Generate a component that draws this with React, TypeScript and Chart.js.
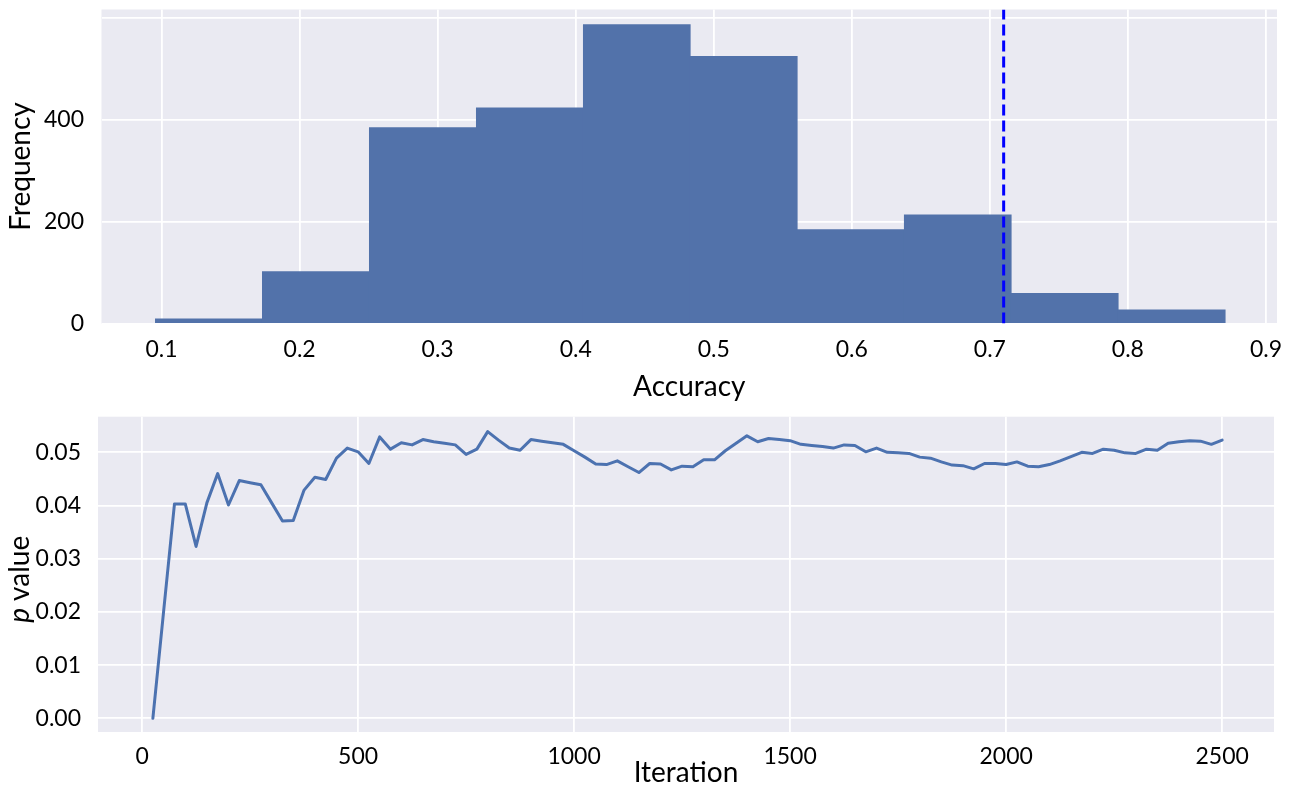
import React, { useEffect, useRef } from 'react';
import { Chart, registerables } from 'chart.js';

Chart.register(...registerables);

// ---------- Top panel: histogram of permutation accuracies ----------
const accuracyBinEdges = [0.0955, 0.173, 0.2505, 0.328, 0.4055, 0.483, 0.5605, 0.638, 0.7155, 0.793, 0.8705];
const accuracyCounts = [9, 102, 384, 423, 586, 524, 184, 213, 59, 27];
const observedAccuracy = 0.71;
const freqTicks = [0, 200, 400, 600];
const freqTickLabels = ['0', '200', '400', ''];
const accuracyTicks = [0.1, 0.2, 0.3, 0.4, 0.5, 0.6, 0.7, 0.8, 0.9];
const accuracyTickLabels = ['0.1', '0.2', '0.3', '0.4', '0.5', '0.6', '0.7', '0.8', '0.9'];

// ---------- Bottom panel: p value vs iteration ----------
const iterations = [
  25, 50, 75, 100, 125, 150, 175, 200, 225, 250,
  275, 300, 325, 350, 375, 400, 425, 450, 475, 500,
  525, 550, 575, 600, 625, 650, 675, 700, 725, 750,
  775, 800, 825, 850, 875, 900, 925, 950, 975, 1000,
  1025, 1050, 1075, 1100, 1125, 1150, 1175, 1200, 1225, 1250,
  1275, 1300, 1325, 1350, 1375, 1400, 1425, 1450, 1475, 1500,
  1525, 1550, 1575, 1600, 1625, 1650, 1675, 1700, 1725, 1750,
  1775, 1800, 1825, 1850, 1875, 1900, 1925, 1950, 1975, 2000,
  2025, 2050, 2075, 2100, 2125, 2150, 2175, 2200, 2225, 2250,
  2275, 2300, 2325, 2350, 2375, 2400, 2425, 2450, 2475, 2500,
];
const pValues = [
  0.0000, 0.0202, 0.0403, 0.0403, 0.0323, 0.0405, 0.0460, 0.0401, 0.0447, 0.0443,
  0.0439, 0.0405, 0.0371, 0.0372, 0.0429, 0.0453, 0.0449, 0.0489, 0.0508, 0.0501,
  0.0479, 0.0529, 0.0506, 0.0518, 0.0514, 0.0524, 0.0520, 0.0517, 0.0514, 0.0496,
  0.0506, 0.0539, 0.0523, 0.0508, 0.0504, 0.0524, 0.0521, 0.0518, 0.0515, 0.0503,
  0.0491, 0.0478, 0.0477, 0.0484, 0.0473, 0.0462, 0.0479, 0.0478, 0.0467, 0.0474,
  0.0473, 0.0486, 0.0486, 0.0503, 0.0517, 0.0531, 0.0520, 0.0526, 0.0524, 0.0522,
  0.0515, 0.0513, 0.0511, 0.0508, 0.0514, 0.0513, 0.0501, 0.0508, 0.0500, 0.0499,
  0.0498, 0.0491, 0.0489, 0.0482, 0.0476, 0.0475, 0.0469, 0.0479, 0.0479, 0.0477,
  0.0482, 0.0474, 0.0473, 0.0477, 0.0484, 0.0492, 0.0500, 0.0498, 0.0506, 0.0504,
  0.0499, 0.0498, 0.0506, 0.0504, 0.0517, 0.0520, 0.0522, 0.0521, 0.0515, 0.0523,
];
const iterationTicks = [0, 500, 1000, 1500, 2000, 2500];
const iterationTickLabels = ['0', '500', '1000', '1500', '2000', '2500'];
const pTicks = [0, 0.01, 0.02, 0.03, 0.04, 0.05];
const pTickLabels = ['0.00', '0.01', '0.02', '0.03', '0.04', '0.05'];

const FONT = 'Lato, "Open Sans", "DejaVu Sans", sans-serif';
const TEXT = '#000000';
const PLOT_BG = '#eaeaf2';
const BAR_COLOR = '#5272aa';
const LINE_COLOR = '#4c72b0';

const plotBg = {
  id: 'plotBg',
  beforeDraw(chart: any) {
    const { ctx, chartArea } = chart;
    if (!chartArea) return;
    ctx.save();
    ctx.fillStyle = PLOT_BG;
    ctx.fillRect(chartArea.left, chartArea.top, chartArea.right - chartArea.left, chartArea.bottom - chartArea.top);
    ctx.restore();
  },
};

const gridOpts = { color: '#ffffff', lineWidth: 1.8, drawTicks: false, offset: false };

const zeroPad = (scale: any) => {
  scale.paddingTop = 0;
  scale.paddingBottom = 0;
  scale.paddingLeft = 0;
  scale.paddingRight = 0;
};

export default function App() {
  const topRef = useRef<HTMLCanvasElement>(null);
  const botRef = useRef<HTMLCanvasElement>(null);

  useEffect(() => {
    const centers = accuracyCounts.map((_, i) => (accuracyBinEdges[i] + accuracyBinEdges[i + 1]) / 2);
    const freqMax = 615.7;

    const top = new Chart(topRef.current as HTMLCanvasElement, {
      type: 'bar',
      data: {
        datasets: [
          {
            type: 'line',
            label: 'observed',
            data: [
              { x: observedAccuracy, y: 0 },
              { x: observedAccuracy, y: freqMax },
            ],
            borderColor: '#0000ff',
            borderWidth: 3,
            borderDash: [11, 5],
            pointRadius: 0,
            fill: false,
            order: 0,
          } as any,
          {
            type: 'bar',
            label: 'Frequency',
            data: centers.map((c, i) => ({ x: c, y: accuracyCounts[i] })),
            backgroundColor: BAR_COLOR,
            borderWidth: 0,
            barPercentage: 1,
            categoryPercentage: 1,
            order: 1,
          } as any,
        ],
      },
      options: {
        animation: false,
        responsive: false,
        devicePixelRatio: 1,
        layout: { padding: { top: 9.5, right: 16, left: 0, bottom: 0 } },
        plugins: { legend: { display: false }, tooltip: { enabled: false } },
        scales: {
          x: {
            type: 'linear',
            offset: false,
            min: 0.0565,
            max: 0.908,
            grid: gridOpts,
            border: { display: false },
            afterBuildTicks: (scale: any) => {
              scale.ticks = accuracyTicks.map((v) => ({ value: v }));
            },
            afterFit: (scale: any) => {
              scale.height = 86.5;
              zeroPad(scale);
            },
            ticks: {
              autoSkip: false,
              maxRotation: 0,
              padding: 12,
              color: TEXT,
              font: { family: FONT, size: 23 },
              callback: (_v: any, i: number) => accuracyTickLabels[i],
            },
            title: {
              display: true,
              text: 'Accuracy',
              color: TEXT,
              font: { family: FONT, size: 28 },
              padding: { top: 0, bottom: 6.2 },
            },
          },
          y: {
            type: 'linear',
            min: 0,
            max: freqMax,
            grid: gridOpts,
            border: { display: false },
            afterBuildTicks: (scale: any) => {
              scale.ticks = freqTicks.map((v) => ({ value: v }));
            },
            afterFit: (scale: any) => {
              scale.width = 101.5;
              zeroPad(scale);
            },
            ticks: {
              autoSkip: false,
              padding: 17.5,
              color: TEXT,
              font: { family: FONT, size: 23 },
              callback: (_v: any, i: number) => freqTickLabels[i],
            },
            title: {
              display: true,
              text: 'Frequency',
              color: TEXT,
              font: { family: FONT, size: 28 },
              padding: { top: 4.2, bottom: 0 },
            },
          },
        },
      } as any,
      plugins: [plotBg],
    });

    const pTitle = {
      id: 'pTitle',
      afterDraw(chart: any) {
        const { ctx, chartArea } = chart;
        const cy = (chartArea.top + chartArea.bottom) / 2 + 5;
        const cx = 20;
        ctx.save();
        ctx.translate(cx, cy);
        ctx.rotate(-Math.PI / 2);
        ctx.fillStyle = TEXT;
        ctx.textBaseline = 'middle';
        ctx.textAlign = 'left';
        const italic = `italic 28px ${FONT}`;
        const normal = `28px ${FONT}`;
        ctx.font = italic;
        const wp = ctx.measureText('p').width;
        ctx.font = normal;
        const wv = ctx.measureText(' value').width;
        const start = -(wp + wv) / 2;
        ctx.font = italic;
        ctx.fillText('p', start, 0);
        ctx.font = normal;
        ctx.fillText(' value', start + wp, 0);
        ctx.restore();
      },
    };

    const bottom = new Chart(botRef.current as HTMLCanvasElement, {
      type: 'line',
      data: {
        datasets: [
          {
            label: 'p value',
            data: iterations.map((it, i) => ({ x: it, y: pValues[i] })),
            borderColor: LINE_COLOR,
            borderWidth: 3,
            pointRadius: 0,
            tension: 0,
            fill: false,
            borderJoinStyle: 'round',
            borderCapStyle: 'round',
          } as any,
        ],
      },
      options: {
        animation: false,
        responsive: false,
        devicePixelRatio: 1,
        layout: { padding: { top: 16.7, right: 19, left: 0, bottom: 0 } },
        plugins: { legend: { display: false }, tooltip: { enabled: false } },
        scales: {
          x: {
            type: 'linear',
            min: -102,
            max: 2620,
            grid: gridOpts,
            border: { display: false },
            afterBuildTicks: (scale: any) => {
              scale.ticks = iterationTicks.map((v) => ({ value: v }));
            },
            afterFit: (scale: any) => {
              scale.height = 53;
              zeroPad(scale);
            },
            ticks: {
              autoSkip: false,
              maxRotation: 0,
              padding: 11,
              color: TEXT,
              font: { family: FONT, size: 23 },
              callback: (_v: any, i: number) => iterationTickLabels[i],
            },
            title: {
              display: true,
              text: 'Iteration',
              color: TEXT,
              font: { family: FONT, size: 28, lineHeight: 0.8 },
              padding: { top: 0, bottom: 0.8 },
            },
          },
          y: {
            type: 'linear',
            min: -0.00258,
            max: 0.0567,
            grid: gridOpts,
            border: { display: false },
            afterBuildTicks: (scale: any) => {
              scale.ticks = pTicks.map((v) => ({ value: v }));
            },
            afterFit: (scale: any) => {
              scale.width = 98;
              zeroPad(scale);
            },
            ticks: {
              autoSkip: false,
              padding: 17,
              color: TEXT,
              font: { family: FONT, size: 23 },
              callback: (_v: any, i: number) => pTickLabels[i],
            },
          },
        },
      } as any,
      plugins: [plotBg, pTitle],
    });

    return () => {
      top.destroy();
      bottom.destroy();
    };
  }, []);

  return (
    <div
      style={{
        position: 'absolute',
        left: 0,
        top: 0,
        width: 1293,
        height: 785,
        background: '#ffffff',
        overflow: 'hidden',
      }}
    >
      <canvas
        ref={topRef}
        width={1293}
        height={410}
        style={{ position: 'absolute', left: 0, top: 0, width: 1293, height: 410, display: 'block' }}
      />
      <canvas
        ref={botRef}
        width={1293}
        height={385}
        style={{ position: 'absolute', left: 0, top: 400, width: 1293, height: 385, display: 'block' }}
      />
    </div>
  );
}
